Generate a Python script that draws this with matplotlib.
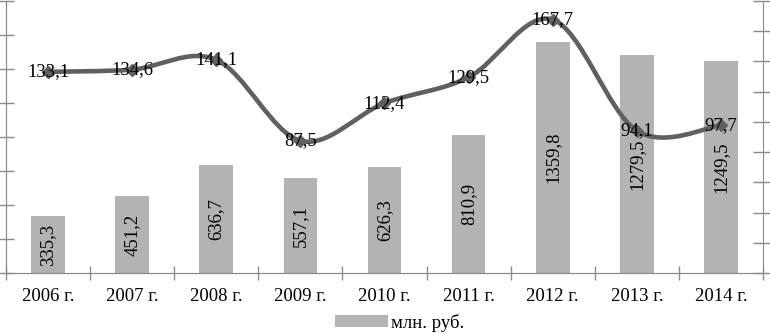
import matplotlib
matplotlib.use("Agg")
import matplotlib.pyplot as plt
import numpy as np
from matplotlib.path import Path
from matplotlib.patches import PathPatch, Patch

years = ["2006 г.", "2007 г.", "2008 г.", "2009 г.", "2010 г.", "2011 г.", "2012 г.", "2013 г.", "2014 г."]
bar_values = [335.3, 451.2, 636.7, 557.1, 626.3, 810.9, 1359.8, 1279.5, 1249.5]
line_values = [133.1, 134.6, 141.1, 87.5, 112.4, 129.5, 167.7, 94.1, 97.7]
legend_label = "млн. руб."

bar_color = "#b3b3b3"
line_color = "#606060"
spine_color = "#8c8c8c"
fs = 13.5

plt.rcParams['font.family'] = ['Liberation Serif', 'DejaVu Serif']

fig = plt.figure(figsize=(7.7, 3.33), dpi=100)
ax = fig.add_axes([6/770, 1 - 273/333, (763 - 6)/770, 272/333])
ax2 = ax.twinx()

x = np.arange(len(years))
ax.bar(x, bar_values, width=0.4, color=bar_color, zorder=2)
ax.set_ylim(0, 1600)
ax.set_yticks(np.arange(0, 1601, 200))
ax.set_yticklabels([])
ax.set_xlim(-0.5, len(years) - 0.5)
ax.set_xticks(x)
ax.set_xticklabels(years, fontsize=fs)
ax.set_xticks(np.arange(-0.5, len(years), 1), minor=True)
ax.tick_params(axis='x', which='major', length=0, pad=11)
ax.tick_params(axis='x', which='minor', direction='inout', length=10, color=spine_color, width=1)
ax.tick_params(axis='y', direction='inout', length=12, color=spine_color, width=1)

for xi, v in zip(x, bar_values):
    ax.text(xi, v / 2, f"{v:.1f}".replace('.', ','), rotation=90, ha='center', va='center',
            fontsize=fs, zorder=5)

for s in ['top']:
    ax.spines[s].set_visible(False)
    ax2.spines[s].set_visible(False)
for s in ['left', 'bottom', 'right']:
    ax.spines[s].set_color(spine_color)
    ax2.spines[s].set_color(spine_color)
ax.spines['right'].set_visible(False)

ax2.set_ylim(0, 180)
ax2.set_yticks(np.arange(0, 181, 20))
ax2.set_yticklabels([])
ax2.tick_params(axis='y', direction='inout', length=14, color=spine_color, width=1)

# smooth curve (Bezier through data points, Excel-like)
pts = np.column_stack([x.astype(float), np.array(line_values, dtype=float)])
verts = [tuple(pts[0])]
codes = [Path.MOVETO]
n = len(pts)
for i in range(n - 1):
    p0 = pts[i - 1] if i > 0 else pts[i]
    p1 = pts[i]
    p2 = pts[i + 1]
    p3 = pts[i + 2] if i + 2 < n else pts[i + 1]
    c1 = p1 + (p2 - p0) / 6.0
    c2 = p2 - (p3 - p1) / 6.0
    verts += [tuple(c1), tuple(c2), tuple(p2)]
    codes += [Path.CURVE4] * 3
path = Path(verts, codes)
ax2.add_patch(PathPatch(path, facecolor='none', edgecolor=line_color, lw=3.3,
                        capstyle='round', joinstyle='round', zorder=3))
ax2.plot(x, line_values, linestyle='none', marker='D', markersize=6, color=line_color, zorder=4)
for xi, v in zip(x, line_values):
    ax2.text(xi, v, f"{v:.1f}".replace('.', ','), ha='center', va='center', fontsize=fs, zorder=6)

ax.set_zorder(0)
ax2.set_zorder(1)
ax.patch.set_visible(True)
ax2.patch.set_visible(False)

fig.legend(handles=[Patch(facecolor=bar_color, edgecolor='none')], labels=[legend_label],
           loc='center', bbox_to_anchor=(400/770, 1 - 323/333), frameon=False,
           fontsize=fs, handlelength=2.8, handleheight=0.6, handletextpad=0.2)

fig.savefig("out.png", dpi=100)
